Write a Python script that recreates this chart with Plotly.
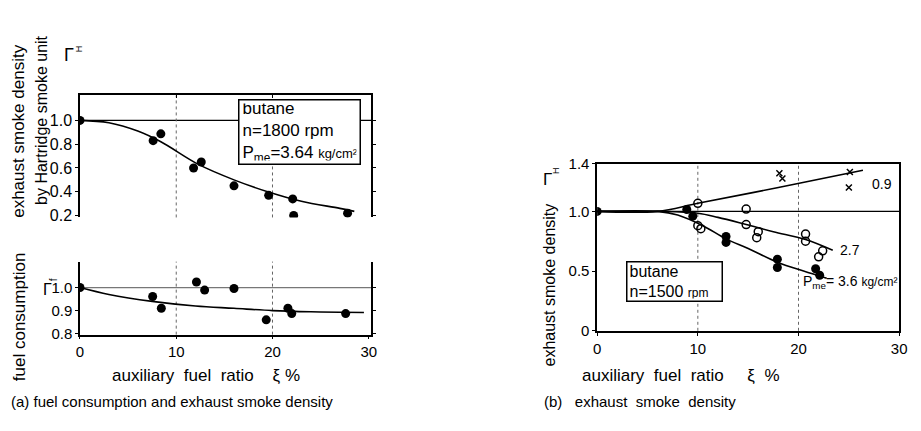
import plotly.graph_objects as go

W, H = 921, 431
FONT = "Liberation Sans"

# ---------------- data ----------------
# (a) upper: exhaust smoke density, n=1800 rpm
a_smoke_x = [0, 7.6, 8.4, 11.8, 12.6, 16.0, 19.6, 22.1, 22.2, 27.8]
a_smoke_y = [1.0, 0.83, 0.887, 0.60, 0.65, 0.45, 0.37, 0.34, 0.20, 0.22]
a_smoke_fit_x = [0, 3, 6, 8.4, 12.3, 16, 19.5, 23, 27, 28.5]
a_smoke_fit_y = [1.0, 0.98, 0.91, 0.82, 0.63, 0.50, 0.40, 0.32, 0.26, 0.235]

# (a) lower: fuel consumption
a_fuel_x = [0, 7.55, 8.45, 12.1, 12.95, 16.0, 19.35, 21.6, 22.0, 27.6]
a_fuel_y = [1.0, 0.961, 0.91, 1.024, 0.989, 0.996, 0.86, 0.91, 0.887, 0.887]
a_fuel_fit_x = [0, 3, 7.5, 12, 16, 20, 24, 29.5]
a_fuel_fit_y = [1.0, 0.97, 0.94, 0.92, 0.91, 0.90, 0.895, 0.892]

# (b) exhaust smoke density, n=1500 rpm
b_filled_x = [0, 8.9, 9.5, 12.8, 12.8, 17.9, 17.9, 21.7, 22.1]       # Pme = 3.6
b_filled_y = [1.0, 1.016, 0.96, 0.79, 0.74, 0.60, 0.53, 0.52, 0.465]
b_open_x = [10.0, 10.0, 10.3, 14.8, 14.8, 16.0, 15.85, 20.7, 20.7, 22.4, 22.0]  # Pme = 2.7
b_open_y = [1.068, 0.88, 0.855, 1.02, 0.89, 0.83, 0.78, 0.81, 0.75, 0.67, 0.62]
b_cross_x = [18.1, 18.4, 25.1, 25.0]                                  # Pme = 0.9
b_cross_y = [1.32, 1.275, 1.33, 1.20]

b_fit09_x = [0, 6, 10, 18, 26.4]
b_fit09_y = [1.0, 1.0, 1.068, 1.2, 1.345]
b_fit27_x = [0, 6, 10, 12, 14.8, 17.5, 20.7, 23.4]
b_fit27_y = [1.0, 1.0, 0.985, 0.95, 0.89, 0.83, 0.765, 0.675]
b_fit36_x = [0, 6, 8, 10.5, 12.8, 15, 17.9, 20.5, 22.8]
b_fit36_y = [1.0, 1.0, 0.97, 0.88, 0.77, 0.69, 0.575, 0.50, 0.44]

ref_level = 1.0
x_ticks = [0, 10, 20, 30]
a_smoke_ticks = [0.2, 0.4, 0.6, 0.8, 1.0]
a_smoke_tick_text = ["0.2", "0.4", "0.6", "0.8", "1.0"]
a_fuel_ticks = [0.8, 0.9, 1.0]
a_fuel_tick_text = ["0.8", "0.9", "1.0"]
b_ticks = [0, 0.5, 1.0, 1.4]
b_tick_text = ["0", "0.5", "1.0", "1.4"]


def px(x):
    return x / W


def py(y):
    return 1 - y / H


fig = go.Figure()

dot = dict(color="black", size=9)
fitline = dict(color="black", width=1.6, shape="spline")

# ---- (a) upper
fig.add_trace(go.Scatter(x=a_smoke_fit_x, y=a_smoke_fit_y, mode="lines", line=fitline,
                         xaxis="x", yaxis="y", showlegend=False))
fig.add_trace(go.Scatter(x=a_smoke_x, y=a_smoke_y, mode="markers", marker=dot,
                         xaxis="x", yaxis="y", showlegend=False))
# ---- (a) lower
fig.add_trace(go.Scatter(x=a_fuel_fit_x, y=a_fuel_fit_y, mode="lines", line=fitline,
                         xaxis="x2", yaxis="y2", showlegend=False))
fig.add_trace(go.Scatter(x=a_fuel_x, y=a_fuel_y, mode="markers", marker=dot,
                         xaxis="x2", yaxis="y2", showlegend=False))
# ---- (b)
for fx, fy in [(b_fit09_x, b_fit09_y), (b_fit27_x, b_fit27_y), (b_fit36_x, b_fit36_y)]:
    fig.add_trace(go.Scatter(x=fx, y=fy, mode="lines", line=fitline,
                             xaxis="x3", yaxis="y3", showlegend=False))
fig.add_trace(go.Scatter(x=b_filled_x, y=b_filled_y, mode="markers", marker=dot,
                         xaxis="x3", yaxis="y3", showlegend=False))
fig.add_trace(go.Scatter(x=b_open_x, y=b_open_y, mode="markers",
                         marker=dict(symbol="circle-open", size=8, color="black",
                                     line=dict(width=1.5, color="black")),
                         xaxis="x3", yaxis="y3", showlegend=False))
fig.add_trace(go.Scatter(x=b_cross_x, y=b_cross_y, mode="markers",
                         marker=dict(symbol="x-thin", size=6, color="black",
                                     line=dict(width=1.5, color="black")),
                         xaxis="x3", yaxis="y3", showlegend=False))

# ---- reference lines and dotted grid
shapes = []
for xr, yr, col in [("x", "y", "black"), ("x2", "y2", "#777"), ("x3", "y3", "black")]:
    shapes.append(dict(type="line", xref=f"{xr} domain", yref=yr, x0=0, x1=1,
                       y0=ref_level, y1=ref_level, line=dict(color=col, width=1.3),
                       layer="below"))
    for gx in [10, 20]:
        shapes.append(dict(type="line", xref=xr, yref=f"{yr} domain", x0=gx, x1=gx,
                           y0=0, y1=1, line=dict(color="#666", width=1, dash="dot"),
                           layer="below"))


def axis(size=15, **kw):
    d = dict(showline=True, linecolor="black", linewidth=1.5, showgrid=False,
             zeroline=False, tickcolor="black",
             tickfont=dict(family=FONT, size=size, color="black"))
    d.update(kw)
    return d


fig.update_layout(
    width=W, height=H, margin=dict(l=0, r=0, t=0, b=0),
    paper_bgcolor="white", plot_bgcolor="white",
    font=dict(family=FONT, color="black"),
    shapes=shapes,
    xaxis=axis(domain=[px(77), px(372)], range=[0, 30.25], anchor="y", side="top",
               tickvals=[10, 20], showticklabels=False, ticks="inside", ticklen=3),
    yaxis=axis(size=16, domain=[py(217), py(90)], range=[0.184, 1.21], anchor="x",
               tickvals=a_smoke_ticks, ticktext=a_smoke_tick_text,
               ticks="outside", ticklen=3, mirror="ticks"),
    xaxis2=axis(domain=[px(77), px(372)], range=[0, 30.25], anchor="y2",
                tickvals=x_ticks, ticks="outside", ticklen=3),
    yaxis2=axis(size=15, domain=[py(339), py(263)], range=[0.7958, 1.1125], anchor="x2",
                tickvals=a_fuel_ticks, ticktext=a_fuel_tick_text,
                ticks="outside", ticklen=3, mirror="ticks"),
    xaxis3=axis(domain=[px(601), px(907)], range=[0, 30], anchor="y3",
                tickvals=x_ticks, ticks="outside", ticklen=3, mirror=True),
    yaxis3=axis(domain=[py(335), py(161)], range=[0, 1.4], anchor="x3",
                tickvals=b_ticks, ticktext=b_tick_text, ticks="outside", ticklen=3,
                mirror=True),
)

nb = "\u00a0"


def ann(text, x, y, size=16, angle=0, xanchor="center", yanchor="middle", **kw):
    fig.add_annotation(text=text, x=px(x), y=py(y), xref="paper", yref="paper",
                       showarrow=False, textangle=angle, xanchor=xanchor, yanchor=yanchor,
                       font=dict(family=FONT, size=size, color="black"), **kw)


# (a) axis titles
ann("exhaust" + nb + "smoke" + nb + "density", 15, 127, size=17, angle=-90)
ann("by" + nb + "Hartridge" + nb + "smoke" + nb + "unit", 38, 116, size=16, angle=-90)
ann("Γ", 66, 48, size=18)
ann("H", 76, 42, size=9, angle=-90)
ann("fuel" + nb + "consumption", 16, 320, size=17, angle=-90)
ann("Γ", 44, 292, size=16)
ann("f", 51, 282, size=10, angle=-90)
ann("auxiliary" + nb * 2 + "fuel" + nb * 2 + "ratio" + nb * 4 + "ξ" + nb + "%", 205, 382, size=17)
ann("(a)" + nb + "fuel" + nb + "consumption" + nb + "and" + nb + "exhaust" + nb + "smoke" + nb + "density",
    5, 409, size=15, xanchor="left")

# (a) box
fig.add_annotation(text="butane<br>n=1800 rpm<br>P<sub>me</sub>=3.64 <span style='font-size:13px'>kg/cm²</span>",
                   x=px(237), y=py(94), xref="paper", yref="paper", showarrow=False,
                   xanchor="left", yanchor="top", align="left", width=114, height=57,
                   bordercolor="black", borderwidth=1.5, borderpad=3, bgcolor="white",
                   font=dict(family=FONT, size=17, color="black"))

# (b) axis titles
ann("exhaust" + nb + "smoke" + nb + "density", 553, 287, size=16, angle=-90)
ann("Γ", 551, 178, size=17)
ann("H", 560, 168, size=9, angle=-90)
ann("auxiliary" + nb * 2 + "fuel" + nb * 2 + "ratio" + nb * 5 + "ξ" + nb * 2 + "%", 686, 382, size=17)
ann("(b)" + nb * 3 + "exhaust" + nb * 2 + "smoke" + nb * 2 + "density", 545, 409, size=15, xanchor="left")

# (b) box
fig.add_annotation(text="butane<br>n=1500 <span style='font-size:12px'>rpm</span>",
                   x=px(630), y=py(262), xref="paper", yref="paper", showarrow=False,
                   xanchor="left", yanchor="top", align="left", width=90, height=34,
                   bordercolor="black", borderwidth=1.5, borderpad=2, bgcolor="white",
                   font=dict(family=FONT, size=16, color="black"))

# (b) curve labels
ann("0.9", 877, 182, size=14, xanchor="left")
ann("2.7", 845, 251, size=14, xanchor="left")
ann("P<sub>me</sub>=" + nb + "3.6" + nb + "<span style='font-size:12px'>kg/cm²</span>", 808, 284,
    size=14, xanchor="left")

fig.write_html("out.html")
